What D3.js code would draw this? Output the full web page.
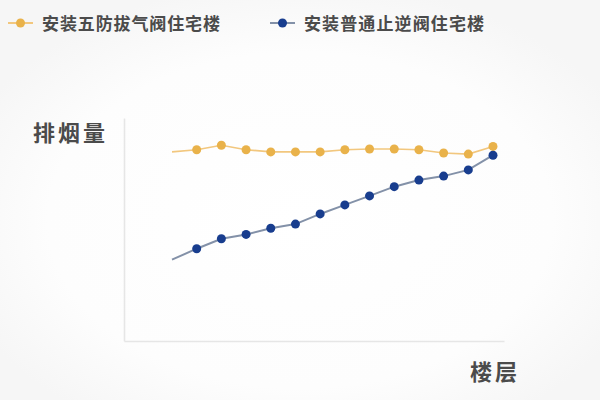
<!DOCTYPE html>
<html>
<head>
<meta charset="utf-8">
<script src="https://cdn.jsdelivr.net/npm/d3@7"></script>
<style>
  html, body { margin: 0; padding: 0; background: #f8f8f8; }
  svg { display: block; font-family: "Noto Sans CJK SC", "Noto Sans", sans-serif; }
</style>
</head>
<body>
<svg id="chart"></svg>
<script>
  // Data
  var floors = ['1', '2', '3', '4', '5', '6', '7', '8', '9', '10', '11', '12', '13', '14']
  var fivePrevention = [85.5, 86.5, 88.5, 86.5, 85.5, 85.5, 85.5, 86.5, 86.8, 86.8, 86.5, 85, 84.5, 88]
  var ordinaryCheck = [36.5, 41.5, 46, 48, 50.8, 52.7, 57.3, 61.4, 65.5, 69.7, 72.7, 74.5, 77.3, 84]
  var seriesNames = ['安装五防拔气阀住宅楼', '安装普通止逆阀住宅楼']
  var yLabel = '排烟量'
  var xLabel = '楼层'

  var WIDTH = 600
  var HEIGHT = 400
  var COLORS = [
    { line: '#f2c77e', dot: '#e9b24a' },
    { line: '#8391a8', dot: '#183d8e' }
  ]
  var TEXT_COLOR = '#4b4b4b'
  var AXIS_COLOR = '#e6e6e6'

  var svg = d3.select('#chart')
    .attr('width', WIDTH)
    .attr('height', HEIGHT)

  // soft background glow
  var defs = svg.append('defs')
  var grad = defs.append('radialGradient')
    .attr('id', 'bg')
    .attr('cx', '50%').attr('cy', '55%').attr('r', '60%')
  grad.append('stop').attr('offset', '0%').attr('stop-color', '#ffffff')
  grad.append('stop').attr('offset', '70%').attr('stop-color', '#fdfdfd')
  grad.append('stop').attr('offset', '100%').attr('stop-color', '#f6f6f6')
  svg.append('rect')
    .attr('width', WIDTH).attr('height', HEIGHT)
    .attr('fill', 'url(#bg)')

  var x = d3.scalePoint()
    .domain(floors)
    .range([172, 493])

  var y = d3.scaleLinear()
    .domain([0, 100])
    .range([340, 120])

  // axes (no ticks, just faint domain lines)
  svg.append('g')
    .attr('transform', 'translate(0,341)')
    .call(d3.axisBottom(d3.scaleLinear().range([124, 504])).ticks(0).tickSizeOuter(0))
  svg.append('g')
    .attr('transform', 'translate(124,0)')
    .call(d3.axisLeft(d3.scaleLinear().range([341, 118])).ticks(0).tickSizeOuter(0))
  svg.selectAll('.domain')
    .attr('stroke', AXIS_COLOR)
    .attr('stroke-width', 1.6)

  var line = d3.line()
    .x(function (d, i) { return x(floors[i]) })
    .y(function (d) { return y(d) })

  var allSeries = [fivePrevention, ordinaryCheck]

  allSeries.forEach(function (values, s) {
    var g = svg.append('g').classed('series', true)
    g.append('path')
      .datum(values)
      .attr('d', line)
      .attr('fill', 'none')
      .attr('stroke', COLORS[s].line)
      .attr('stroke-width', s ? 2 : 1.6)
    g.selectAll('circle')
      .data(values.slice(1))
      .enter()
      .append('circle')
      .attr('cx', function (d, i) { return x(floors[i + 1]) })
      .attr('cy', function (d) { return y(d) })
      .attr('r', 4.5)
      .attr('fill', COLORS[s].dot)
  })

  // legend
  var legendPos = [8, 270]
  var legendWidth = [178, 180]
  var legend = svg.append('g').classed('legend', true)
  seriesNames.forEach(function (name, s) {
    var item = legend.append('g').attr('transform', 'translate(' + legendPos[s] + ',23)')
    item.append('line')
      .attr('x1', 0).attr('x2', 25)
      .attr('stroke', COLORS[s].line)
      .attr('stroke-width', 2)
    item.append('circle')
      .attr('cx', 12.5).attr('r', 4.5)
      .attr('fill', COLORS[s].dot)
    item.append('text')
      .attr('x', 34).attr('y', 6.5)
      .attr('font-size', 17)
      .attr('font-weight', 'bold')
      .attr('textLength', legendWidth[s])
      .attr('lengthAdjust', 'spacing')
      .attr('fill', TEXT_COLOR)
      .text(name)
  })

  // axis titles
  svg.append('text')
    .attr('x', 33).attr('y', 141)
    .attr('font-size', 22)
    .attr('font-weight', 'bold')
    .attr('textLength', 72)
    .attr('lengthAdjust', 'spacing')
    .attr('fill', TEXT_COLOR)
    .text(yLabel)

  svg.append('text')
    .attr('x', 470).attr('y', 380)
    .attr('font-size', 22)
    .attr('font-weight', 'bold')
    .attr('textLength', 47)
    .attr('lengthAdjust', 'spacing')
    .attr('fill', TEXT_COLOR)
    .text(xLabel)
</script>
</body>
</html>
